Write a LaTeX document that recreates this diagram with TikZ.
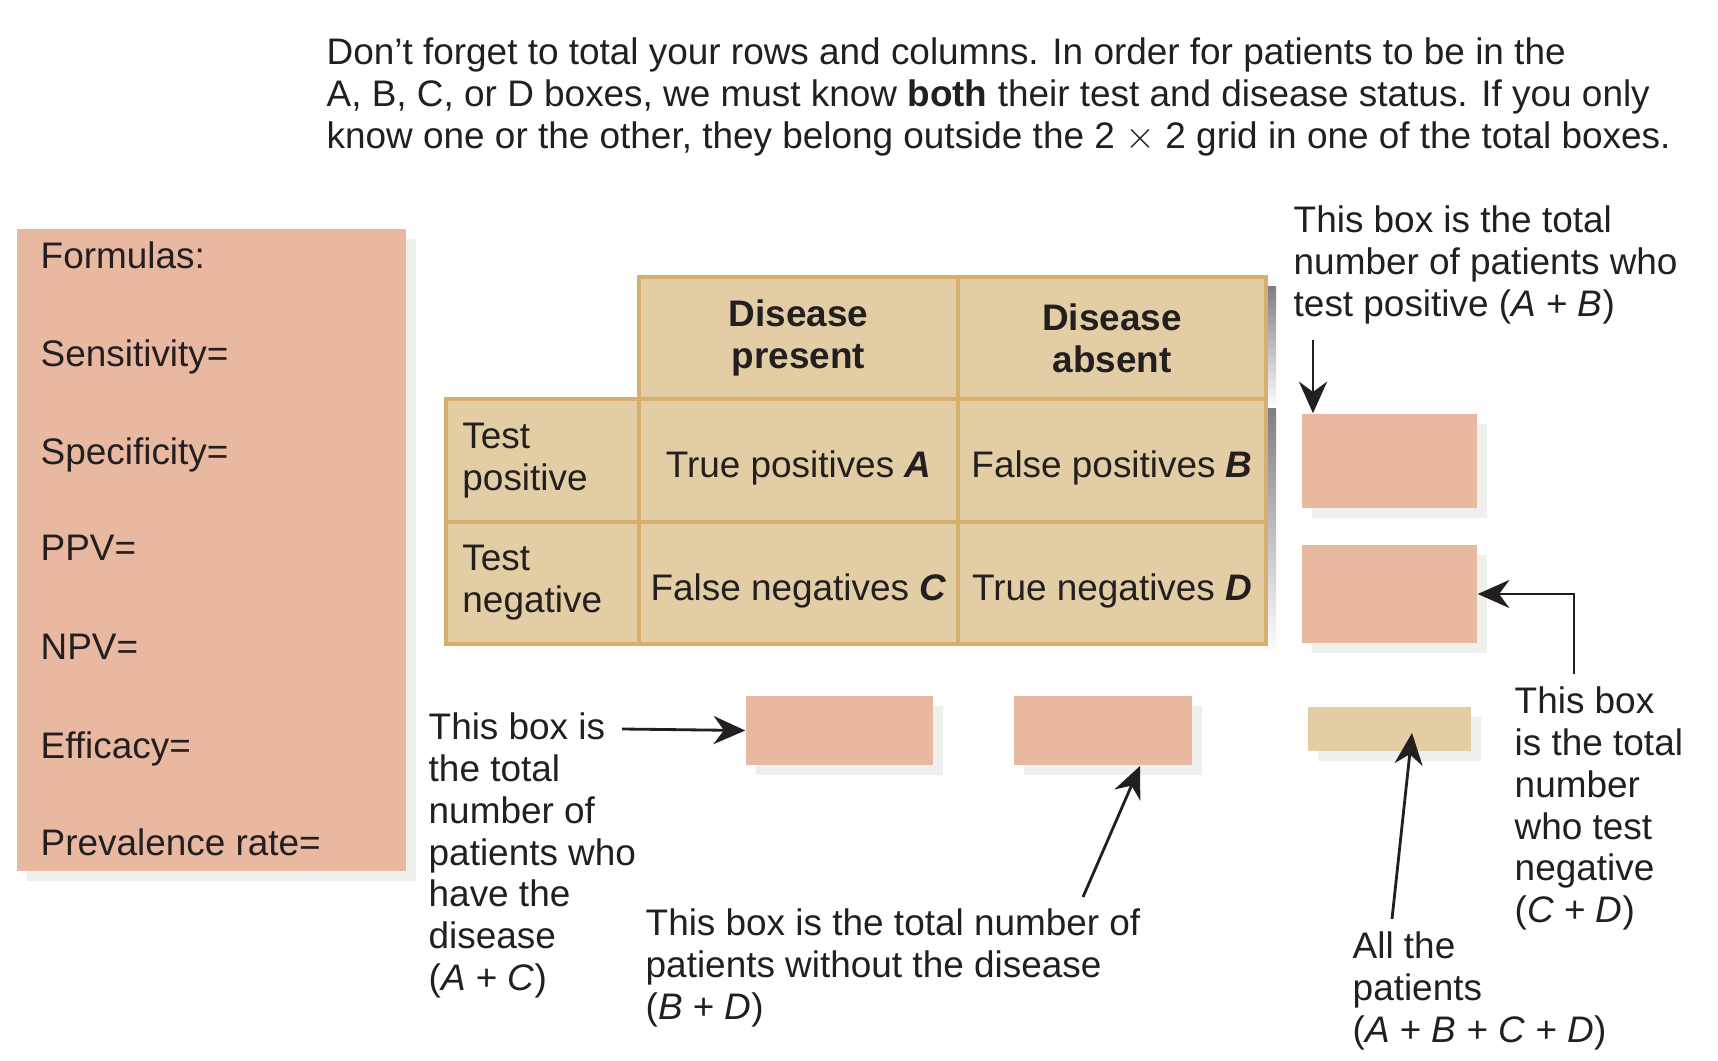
\documentclass[tikz,border=0pt]{standalone}
\usepackage{fontspec}
\setmainfont{Liberation Sans}
\usetikzlibrary{arrows.meta,shadows}
\definecolor{pinkfill}{HTML}{E8B8A0}
\definecolor{tanfill}{HTML}{E3CDA4}
\definecolor{tanline}{HTML}{D6AE6E}
\definecolor{shade}{HTML}{EFEFED}
\definecolor{ink}{HTML}{231F20}
\tikzset{
  txt/.style={anchor=north west, inner sep=0pt, align=left, text=ink,
    font=\fontsize{10.5}{11.9}\selectfont},
  totalbox/.style={fill=pinkfill, inner sep=0pt,
    drop shadow={shadow xshift=0.1cm, shadow yshift=-0.1cm, fill=shade, opacity=1}},
  cell/.style={fill=tanfill, draw=tanline, line width=1.3pt, inner sep=0pt,
    text=ink, font=\fontsize{10.5}{11.9}\selectfont},
  pointer/.style={draw=ink, line width=0.8pt, -{Stealth[length=9pt,width=8pt]}}
}
\begin{document}
\begin{tikzpicture}[x=0.01cm,y=-0.01cm]
  \useasboundingbox (0,0) rectangle (1718,1061);

  % heading
  \node[txt] (note) at (326,37) {Don’t forget to total your rows and columns. In order for patients to be in the\\
    A, B, C, or D boxes, we must know \textbf{both} their test and disease status. If you only\\
    know one or the other, they belong outside the 2 $\times$ 2 grid in one of the total boxes.};

  % formulas panel
  \node[totalbox, minimum width=3.89cm, minimum height=6.42cm] (formulas) at (211.5,550) {};
  \node[txt] (fHead) at (40,241) {Formulas:};
  \node[txt] (fSens) at (40,339) {Sensitivity=};
  \node[txt] (fSpec) at (40,437) {Specificity=};
  \node[txt] (fPPV) at (40,534) {PPV=};
  \node[txt] (fNPV) at (40,633) {NPV=};
  \node[txt] (fEff) at (40,731) {Efficacy=};
  \node[txt] (fPrev) at (40,828) {Prevalence rate=};

  % table shadow
  \fill[shade] (649,287) rectangle (1276,409);
  \fill[shade] (456,409) rectangle (1276,654);

  % 2 x 2 grid
  \node[cell, minimum width=3.19cm, minimum height=1.22cm, align=center, font=\bfseries\fontsize{10.5}{11.9}\selectfont] (present) at (798.5,338) {Disease\\present};
  \node[cell, minimum width=3.08cm, minimum height=1.22cm, align=center, font=\bfseries\fontsize{10.5}{11.9}\selectfont] (absent) at (1112,338) {Disease\\absent};
  \node[cell, minimum width=1.93cm, minimum height=1.23cm, align=left, text width=1.6cm] (tpos) at (542.5,460.5) {Test\\positive\\[-3pt]};
  \node[cell, minimum width=3.19cm, minimum height=1.23cm] (cellA) at (798.5,460.5) {\raisebox{-12pt}{True positives \textbf{\textit{A}}}};
  \node[cell, minimum width=3.08cm, minimum height=1.23cm] (cellB) at (1112,460.5) {\raisebox{-12pt}{False positives \textbf{\textit{B}}}};
  \node[cell, minimum width=1.93cm, minimum height=1.22cm, align=left, text width=1.6cm] (tneg) at (542.5,583) {Test\\negative\\[-3pt]};
  \node[cell, minimum width=3.19cm, minimum height=1.22cm] (cellC) at (798.5,583) {\raisebox{-12pt}{False negatives \textbf{\textit{C}}}};
  \node[cell, minimum width=3.08cm, minimum height=1.22cm] (cellD) at (1112,583) {\raisebox{-12pt}{True negatives \textbf{\textit{D}}}};

  % total boxes
  \node[totalbox, minimum width=1.75cm, minimum height=0.94cm] (totPos) at (1389.5,461) {};
  \node[totalbox, minimum width=1.75cm, minimum height=0.98cm] (totNeg) at (1389.5,594) {};
  \node[totalbox, minimum width=1.87cm, minimum height=0.69cm] (totDis) at (839.5,730.5) {};
  \node[totalbox, minimum width=1.78cm, minimum height=0.69cm] (totNoDis) at (1103,730.5) {};
  \node[totalbox, fill=tanfill, minimum width=1.63cm, minimum height=0.44cm] (totAll) at (1389.5,729) {};

  % labels
  \node[txt] (lblPos) at (1293,205) {This box is the total\\number of patients who\\test positive (\textit{A} + \textit{B})};
  \node[txt] (lblNeg) at (1514,686) {This box\\is the total\\number\\who test\\negative\\(\textit{C} + \textit{D})};
  \node[txt] (lblAll) at (1352,931) {All the\\patients\\(\textit{A} + \textit{B} + \textit{C} + \textit{D})};
  \node[txt] (lblNoDis) at (645,908) {This box is the total number of\\patients without the disease\\(\textit{B} + \textit{D})};
  \node[txt] (lblDis) at (428,712) {This box is\\the total\\number of\\patients who\\have the\\disease\\(\textit{A} + \textit{C})};

  % arrows
  \coordinate (posTail) at (1313,340);
  \coordinate (negTail) at (1574,674);
  \coordinate (allTail) at (1392,919);
  \coordinate (noDisTail) at (1083,897);
  \coordinate (disTail) at (622,729);
  \draw[pointer] (posTail) -- (totPos.north west -| posTail);
  \draw[pointer] (negTail) |- (totNeg.east);
  \draw[pointer] (allTail) -- (1412,733);
  \draw[pointer] (noDisTail) -- (1140,766);
  \draw[pointer] (disTail) -- (totDis.west);
\end{tikzpicture}
\end{document}
